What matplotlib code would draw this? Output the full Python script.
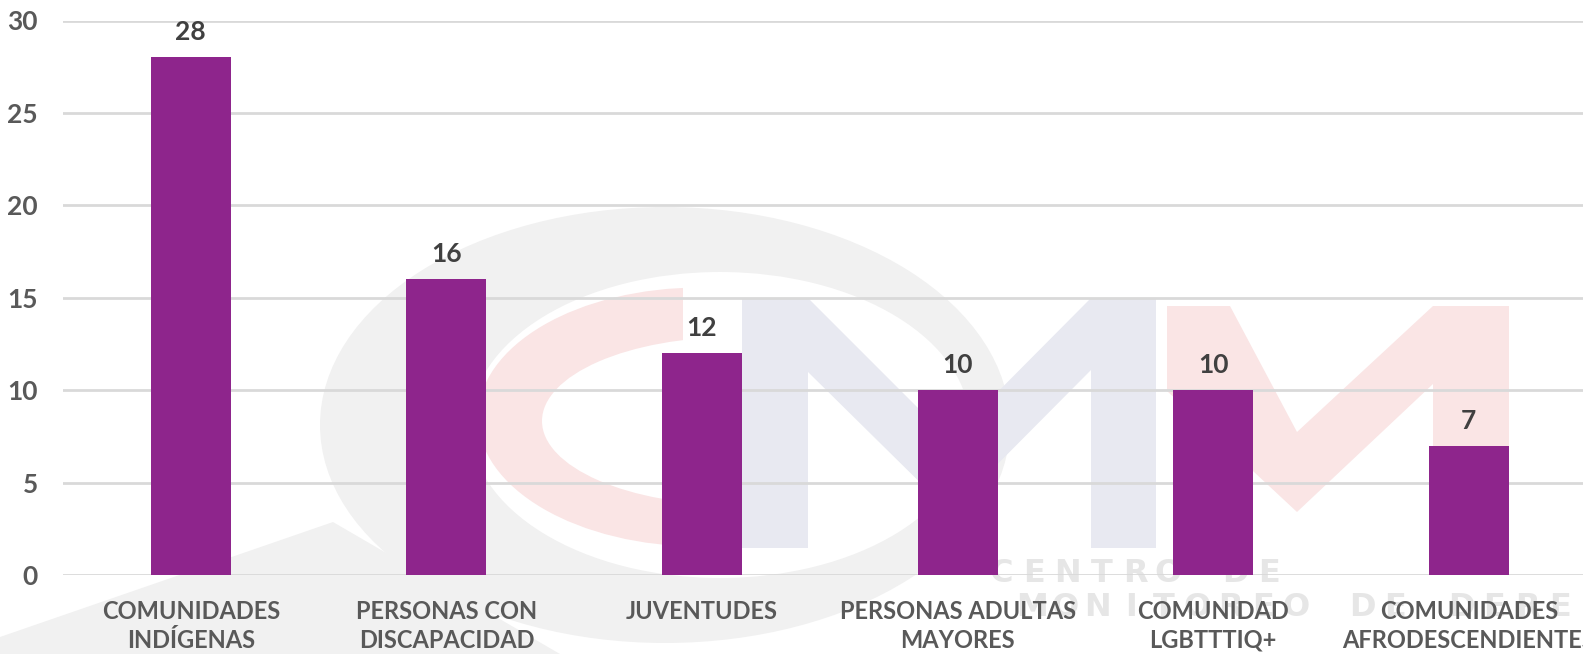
import matplotlib
matplotlib.use("Agg")
import matplotlib.pyplot as plt
from matplotlib.patches import Polygon, Ellipse, Rectangle

categories = ["COMUNIDADES\nINDÍGENAS", "PERSONAS CON\nDISCAPACIDAD", "JUVENTUDES",
              "PERSONAS ADULTAS\nMAYORES", "COMUNIDAD\nLGBTTTIQ+", "COMUNIDADES\nAFRODESCENDIENTES"]
values = [28, 16, 12, 10, 10, 7]
yticks = [0, 5, 10, 15, 20, 25, 30]

W, H = 1583, 654
fig = plt.figure(figsize=(W / 100, H / 100), dpi=100)
fig.patch.set_facecolor("white")

# --- faint watermark (background decoration) ---
bg = fig.add_axes([0, 0, 1, 1], zorder=0)
bg.set_xlim(0, W)
bg.set_ylim(H, 0)
bg.axis("off")
GREY, PINK, BLUE = "#F1F1F1", "#FAE5E5", "#E8E9F1"
bg.add_patch(Polygon([(0, 654), (0, 637), (333, 522), (560, 654)], closed=True, fc=GREY, ec="none"))
bg.add_patch(Ellipse((665, 425), 690, 436, fc=GREY, ec="none"))
bg.add_patch(Ellipse((720, 425), 500, 306, fc="white", ec="none"))
# pink C
pc = Ellipse((700, 417), 444, 259, fc=PINK, ec="none")
bg.add_patch(pc)
pc.set_clip_path(Rectangle((470, 280), 213, 290, transform=bg.transData))
bg.add_patch(Ellipse((735, 421), 386, 168, fc="white", ec="none"))
# blue M
bg.add_patch(Polygon([(742, 548), (742, 298), (808, 298), (950, 440), (1091, 298), (1156, 298),
                      (1156, 548), (1091, 548), (1091, 370), (950, 512), (808, 372), (808, 548)],
                     closed=True, fc=BLUE, ec="none"))
# pink M
bg.add_patch(Polygon([(1167, 306), (1230, 306), (1297, 432), (1433, 306), (1509, 306), (1509, 548),
                      (1433, 548), (1433, 384), (1297, 512), (1167, 391)],
                     closed=True, fc=PINK, ec="none"))
for i, ch in enumerate("CENTRO DE"):
    bg.text(1001 + i * 33.5, 573, ch, fontsize=23, fontweight="bold", color="#E6E6E6",
            ha="center", va="center", family="DejaVu Sans")
for i, ch in enumerate("MONITOREO DE DERECHOS"):
    cx = 1032 + i * 33
    if cx + 12 < W:
        bg.text(cx, 607, ch, fontsize=23, fontweight="bold", color="#E6E6E6",
                ha="center", va="center", family="DejaVu Sans")

# --- main chart ---
left = 63 / W
bottom = (H - 575) / H
top = (H - 20.5) / H
ax = fig.add_axes([left, bottom, 1 - left, top - bottom], zorder=1)
ax.patch.set_alpha(0)

x = list(range(len(categories)))
ax.bar(x, values, width=0.313, color="#8E258C", zorder=3)

ax.set_ylim(0, 30)
ax.set_xlim(-0.5, (W - 63) / 255.6 - 0.5)
ax.set_yticks(yticks)
ax.yaxis.grid(True, color="#D9D9D9", lw=2, zorder=0)
ax.set_axisbelow(True)
for s in ax.spines.values():
    s.set_visible(False)
ax.tick_params(axis="both", length=0)
ax.tick_params(axis="y", pad=18)
ax.tick_params(axis="x", pad=18)
ax.set_yticklabels([str(t) for t in yticks], fontsize=19, fontweight="bold", color="#595959", family="Lato")
ax.set_xticks(x)
ax.set_xticklabels(categories, fontsize=17, color="#595959", family="Lato", fontweight="bold",
                   linespacing=1.3)

for xi, v in zip(x, values):
    ax.annotate(str(v), (xi, v), xytext=(0, 18), textcoords="offset points",
                ha="center", va="center", fontsize=19, fontweight="bold", color="#404040", family="Lato")

fig.savefig("out.png", dpi=100)
